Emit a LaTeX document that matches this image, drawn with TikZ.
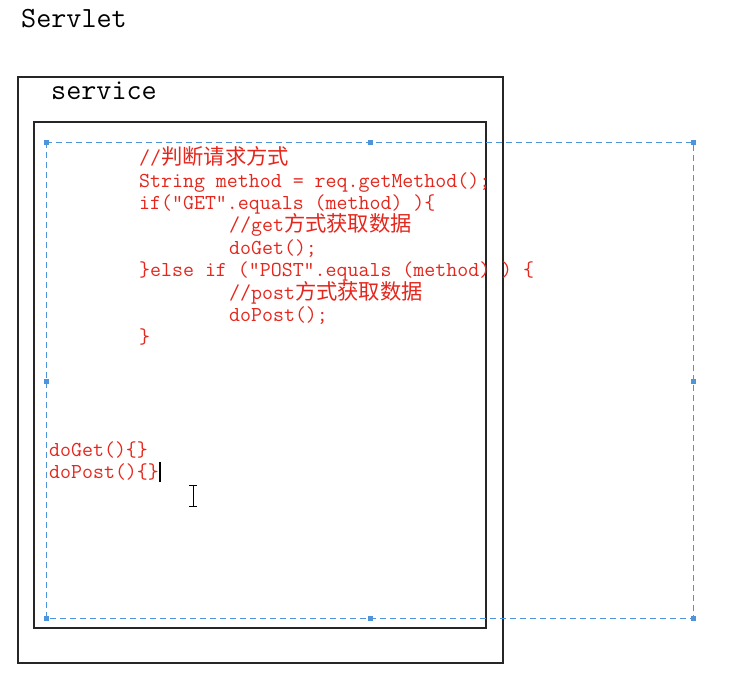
\documentclass[tikz,border=0pt]{standalone}
\usepackage{fontspec}
\newfontfamily\cjk{Noto Sans CJK SC}[Scale=1.0]
\usetikzlibrary{positioning}

\definecolor{codered}{RGB}{228,38,28}
\definecolor{selblue}{RGB}{78,148,218}

\tikzset{
  codeline/.style={anchor=base west, inner sep=0pt, text=codered,
                   text height=14pt, text depth=4pt,
                   font=\ttfamily\fontsize{21.3}{22.4}\selectfont},
  title/.style={anchor=base west, inner sep=0pt,
                font=\ttfamily\fontsize{29.3}{32}\selectfont},
  frame/.style={draw=black!85, line width=1.4pt},
  handle/.style={fill=selblue, minimum size=5pt, inner sep=0pt}
}

\begin{document}
\begin{tikzpicture}[x=1pt, y=-1pt]
  \useasboundingbox (0,0) rectangle (733,690);

  % titles and frames
  \node[title] (servlet) at (21,28) {Servlet};
  \draw[frame] (18,77) rectangle (503,663);
  \node[title] (service) at (51,100) {service};
  \draw[frame] (34,122) rectangle (486,628);

  % selection rectangle
  \draw[selblue, line width=1pt, dash pattern=on 6pt off 4pt]
    (46,142) rectangle (693,618);
  \foreach \hx/\hy in {46/142, 370/142, 693/142, 46/381, 693/381,
                       46/618, 370/618, 693/618}
    \node[handle] at (\hx,\hy) {};

  % service body
  \node[codeline] (c1) at (139,164) {//{\cjk 判断请求方式}};
  \node[codeline] (c2) at (139,187) {String method = req.getMethod();};
  \node[codeline] (c3) at (139,209) {if(”GET”.equals (method) )\{};
  \node[codeline] (c4) at (229,231) {//get{\cjk 方式获取数据}};
  \node[codeline] (c5) at (229,254) {doGet();};
  \node[codeline] (c6) at (139,276) {\}else if (”POST”.equals (method) ) \{};
  \node[codeline] (c7) at (229,299) {//post{\cjk 方式获取数据}};
  \node[codeline] (c8) at (229,321) {doPost();};
  \node[codeline] (c9) at (139,343) {\}};

  % methods
  \node[codeline] (m1) at (49,456) {doGet()\{\}};
  \node[codeline] (m2) at (49,478) {doPost()\{\}};

  % caret and mouse cursor
  \draw[black, line width=1.2pt] (m2.base east) ++(1,4) -- ++(0,-20);
  \draw[black, line width=1pt] (193,485) -- (193,506)
    (189,485) -- (197,485) (189,506) -- (197,506);
\end{tikzpicture}
\end{document}
